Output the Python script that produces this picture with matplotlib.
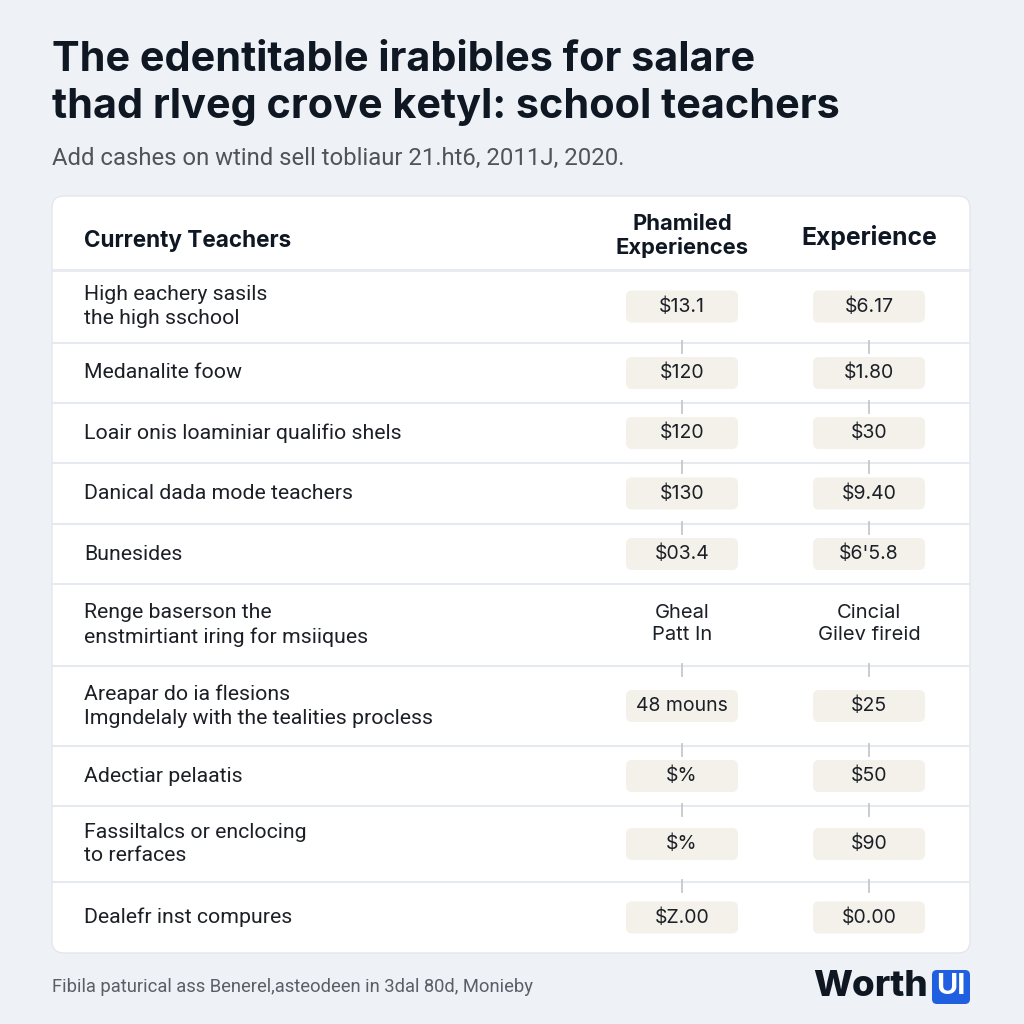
import matplotlib.pyplot as plt
from matplotlib.patches import FancyBboxPatch

# ---- content ----
title_lines = ["The edentitable irabibles for salare",
               "thad rlveg crove ketyl: school teachers"]
subtitle = "Add cashes on wtind sell tobliaur 21.ht6, 2011J, 2020."
headers = ["Currenty Teachers", "Phamiled\nExperiences", "Experience"]

row_labels = [
    "High eachery sasils\nthe high sschool",
    "Medanalite foow",
    "Loair onis loaminiar qualifio shels",
    "Danical dada mode teachers",
    "Bunesides",
    "Renge baserson the\nenstmirtiant iring for msiiques",
    "Areapar do ia flesions\nImgndelaly with the tealities procless",
    "Adectiar pelaatis",
    "Fassiltalcs or enclocing\nto rerfaces",
    "Dealefr inst compures",
]
col1_values = ["$13.1", "$120", "$120", "$130", "$03.4",
               "Gheal\nPatt In", "48 mouns", "$%", "$%", "$Z.00"]
col2_values = ["$6.17", "$1.80", "$30", "$9.40", "$6'5.8",
               "Cincial\nGilev fireid", "$25", "$50", "$90", "$0.00"]
footer = "Fibila paturical ass Benerel,asteodeen in 3dal 80d, Monieby"

# ---- layout / style ----
row_heights = [73, 60, 60, 61, 60, 82, 80, 60, 76, 71]
BG = "#eef1f6"
INK = "#0f1722"
PILL = "#f4f1eb"
LINE = "#e6e9ef"
TICK = "#c4c8ce"
plt.rcParams['font.family'] = ['Inter', 'DejaVu Sans']

fig = plt.figure(figsize=(10.24, 10.24), dpi=100)
fig.patch.set_facecolor(BG)
ax = fig.add_axes([0, 0, 1, 1])
ax.set_xlim(0, 1024)
ax.set_ylim(1024, 0)
ax.axis("off")

# title + subtitle
ax.text(52, 60, title_lines[0], fontsize=29.8, fontweight="bold", color=INK, va="center")
ax.text(52, 107, title_lines[1], fontsize=29.8, fontweight="bold", color=INK, va="center")
ax.text(52, 158, subtitle, fontsize=17.2, color="#4f545b", va="center", family="Roboto")

# card
card_top, card_bot = 196, 953
ax.add_patch(FancyBboxPatch((52, card_top), 918, card_bot - card_top,
                            boxstyle="round,pad=0,rounding_size=12",
                            fc="white", ec="#e3e6eb", lw=1, zorder=1))

col_x = [84, 682, 869]
header_sep = 270
ax.text(col_x[0], 241, headers[0], fontsize=16.2, fontweight="bold", color=INK, va="center")
ax.text(col_x[1], 236, headers[1], fontsize=15.8, fontweight="bold", color=INK,
        va="center", ha="center", linespacing=1.2)
ax.text(col_x[2], 238, headers[2], fontsize=17.8, fontweight="bold", color=INK,
        va="center", ha="center")
ax.plot([52, 970], [header_sep, header_sep], color=LINE, lw=2, zorder=2)

# rows
y = header_sep
for i, (lab, v1, v2) in enumerate(zip(row_labels, col1_values, col2_values)):
    h = row_heights[i]
    yc = y + h / 2
    ax.text(col_x[0], yc, lab, fontsize=15.3, color="#1c2026", va="center",
            family="Roboto", linespacing=1.3)
    pill = "\n" not in v1
    for cx, v in ((col_x[1], v1), (col_x[2], v2)):
        if pill:
            ax.add_patch(FancyBboxPatch((cx - 56, yc - 16), 112, 32,
                                        boxstyle="round,pad=0,rounding_size=6",
                                        fc=PILL, ec="none", zorder=2))
            ax.text(cx, yc, v, fontsize=14, color="#1c2026", ha="center", va="center", zorder=3)
            if i > 0:
                ax.plot([cx, cx], [y - 2, y + 10], color=TICK, lw=1.3, zorder=2)
        else:
            ax.text(cx, yc - 1, v, fontsize=14.5, color="#1c2026", ha="center", va="center",
                    linespacing=1.25)
    if i < len(row_labels) - 1:
        ax.plot([52, 970], [y + h, y + h], color=LINE, lw=1.5, zorder=2)
    y += h

# footer
ax.text(52, 987, footer, fontsize=13.2, color="#5a5e66", va="center", family="Roboto")
ax.text(928, 987, "Worth", fontsize=26.5, fontweight="heavy", color=INK, va="center", ha="right")
ax.add_patch(FancyBboxPatch((932, 970), 38, 34, boxstyle="round,pad=0,rounding_size=5",
                            fc="#1f5fe0", ec="none"))
ax.text(951, 987, "UI", fontsize=21, fontweight="bold", color="white", va="center", ha="center")

fig.savefig("out.png", dpi=100, facecolor=BG)
